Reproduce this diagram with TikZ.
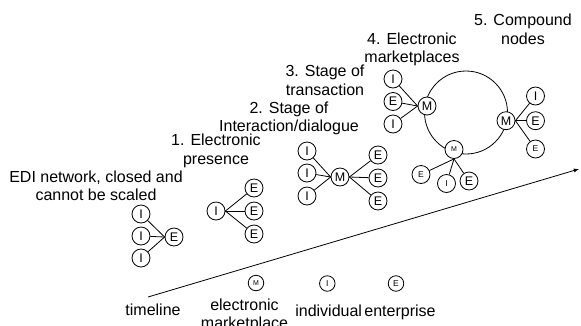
\documentclass[tikz,border=0pt]{standalone}
\usepackage{fontspec}
\setmainfont{Liberation Sans}
\usepackage{tikz}

\begin{document}
\begin{tikzpicture}[x = 1pt, y = -1pt, line width = 0.8pt,
    font = \fontsize{16}{18.4}\selectfont,
    stagetext/.style = {align = center, anchor = base, inner sep = 0pt},
    party/.style = {circle, draw, fill = white, inner sep = 0pt, minimum size = 18pt,
        font = \fontsize{12.5}{12.5}\selectfont},
    smallparty/.style = {party, font = \fontsize{8.5}{8.5}\selectfont},
    tinyparty/.style = {party, font = \fontsize{7}{7}\selectfont},
    legendparty/.style = {minimum size = 15.5pt}]

            \useasboundingbox (0,0) rectangle (581,325);

            % stage 0: EDI
            \node[stagetext] (edi) at (96,200.5) {EDI network, closed and\\cannot be scaled};
            \node[party] (i01) at (141,214) {I};
            \node[party] (i02) at (141,236) {I};
            \node[party] (i03) at (141,258) {I};
            \node[party] (e01) at (174,237) {E};
            \draw (i01) -- (e01.west);
            \draw (i02) -- (e01.west);
            \draw (i03) -- (e01.west);

            % stage 1
            \node[stagetext] (st1) at (216,164) {1. Electronic\\presence};
            \node[party] (i11) at (216,211) {I};
            \node[party] (e11) at (254,188) {E};
            \node[party] (e12) at (254,211) {E};
            \node[party] (e13) at (254,234) {E};
            \draw (i11.east) -- (e11);
            \draw (i11.east) -- (e12);
            \draw (i11.east) -- (e13);

            % stage 2
            \node[stagetext] (st2) at (289,131.7) {2. Stage of\\Interaction/dialogue};
            \node[party] (i21) at (307,151) {I};
            \node[party] (i22) at (307,173) {I};
            \node[party] (i23) at (307,196) {I};
            \node[party] (m21) at (340,177) {M};
            \node[party] (e21) at (378,155) {E};
            \node[party] (e22) at (378,178) {E};
            \node[party] (e23) at (378,201) {E};
            \draw (i21) -- (m21.west);
            \draw (i22) -- (m21.west);
            \draw (i23) -- (m21.west);
            \draw (m21.east) -- (e21);
            \draw (m21.east) -- (e22);
            \draw (m21.east) -- (e23);

            % stage 3 and 4
            \node[stagetext] (st3) at (325,95) {3. Stage of\\transaction};
            \node[stagetext] (st4) at (412,62.7) {4. Electronic\\marketplaces};

            \draw (466,112.5) circle(41.5);

            \node[party] (i41) at (393,79) {I};
            \node[party] (e41) at (393,101.5) {E};
            \node[party] (i42) at (393,124) {I};
            \node[party] (m41) at (427,106) {M};
            \draw (i41) -- (m41.west);
            \draw (e41) -- (m41.west);
            \draw (i42) -- (m41.west);

            % stage 5
            \node[stagetext] (st5) at (523,44) {5. Compound\\nodes};
            \node[party] (m51) at (506,120.7) {M};
            \node[party] (i51) at (535.5,96) {I};
            \node[party] (e51) at (535.5,120.7) {E};
            \node[smallparty] (e52) at (535.5,149) {E};
            \draw (m51.east) -- (i51);
            \draw (m51.east) -- (e51);
            \draw (m51.east) -- (e52);

            \node[tinyparty] (m52) at (454,149.5) {M};
            \node[smallparty] (e53) at (421,174.5) {E};
            \node[smallparty] (i53) at (446.5,183.5) {I};
            \node[party] (e54) at (469,181) {E};
            \draw (m52.south) -- (e53);
            \draw (m52.south) -- (i53);
            \draw (m52.south) -- (e54);

            % timeline
            \coordinate (tstart) at (148,297);
            \coordinate (tend) at (579,169);
            \draw [-latex] (tstart) -- (tend);

            % legend
            \node[tinyparty, legendparty] (lm) at (256,283) {M};
            \node[smallparty, legendparty] (li) at (327.3,283.5) {I};
            \node[smallparty, legendparty] (le) at (396,283.5) {E};
            \node[stagetext] (ltime) at (153,315) {timeline};
            \node[stagetext] (lmarket) at (244.5,328.5) {electronic\\marketplace};
            \node[stagetext] (lindiv) at (328.7,316) {individual};
            \node[stagetext] (lenter) at (400,316) {enterprise};
        \end{tikzpicture}
\end{document}
